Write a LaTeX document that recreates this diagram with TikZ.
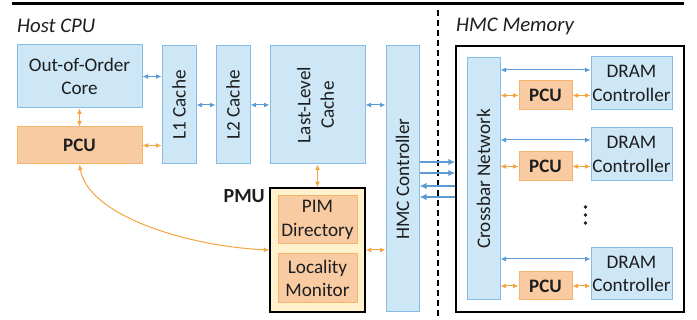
\documentclass[tikz,border=0pt]{standalone}
\usepackage{fontspec}
\setmainfont{Carlito}
\usetikzlibrary{arrows.meta}
\definecolor{bfill}{HTML}{CDE7F7}
\definecolor{bline}{HTML}{86BCE6}
\definecolor{barrow}{HTML}{5B9BD5}
\definecolor{ofill}{HTML}{F8CBA3}
\definecolor{oline}{HTML}{F5B46E}
\definecolor{oarrow}{HTML}{F4A440}
\definecolor{yfill}{HTML}{FFF2CC}
\definecolor{ink}{HTML}{1E1E1E}
\tikzset{
  txt/.style={font=\fontsize{19.2}{23.5}\selectfont, align=center, inner sep=0pt, text=ink},
  bbox/.style={txt, draw=bline, fill=bfill, line width=1pt},
  obox/.style={txt, draw=oline, fill=ofill, line width=1pt, font=\fontsize{19}{23}\selectfont\bfseries},
  otbox/.style={txt, draw=oline, fill=ofill, line width=1pt},
  barr/.style={{Latex[length=5.5pt,width=5pt]}-{Latex[length=5.5pt,width=5pt]}, draw=barrow, line width=1pt},
  oarr/.style={{Latex[length=5.5pt,width=5pt]}-{Latex[length=5.5pt,width=5pt]}, draw=oarrow, line width=1pt},
  thk/.style={-{Latex[length=7pt,width=6.5pt]}, draw=barrow, line width=2.4pt},
}
\begin{document}
\begin{tikzpicture}[x=1pt,y=-1pt]
\useasboundingbox (0,0) rectangle (697,320);
% top rule and divider
\draw[line width=3pt] (12,4) -- (684,4);
\draw[line width=1.5pt, dash pattern=on 6pt off 4pt] (438,10) -- (438,320);
% titles
\node[txt, anchor=west, font=\fontsize{20.8}{24}\selectfont\itshape] (th) at (17,26) {Host CPU};
\node[txt, anchor=west, font=\fontsize{20.8}{24}\selectfont\itshape] (tm) at (456,26) {HMC Memory};
% host side
\node[bbox, minimum width=125pt, minimum height=63pt] (core) at (79.5,76.5) {Out-of-Order\\Core};
\node[obox, minimum width=125pt, minimum height=37pt] (pcuh) at (79.5,145.5) {PCU};
\node[bbox, minimum width=34pt, minimum height=118pt] (l1) at (179,105) {\rotatebox{90}{L1 Cache}};
\node[bbox, minimum width=34pt, minimum height=118pt] (l2) at (233,105) {\rotatebox{90}{L2 Cache}};
\node[bbox, minimum width=95pt, minimum height=118pt] (llc) at (317.5,105) {\rotatebox{90}{\begin{tabular}{@{}c@{}}Last-Level\\Cache\end{tabular}}};
\node[bbox, minimum width=33pt, minimum height=266pt] (hmcc) at (402.5,179) {\rotatebox{90}{HMC Controller}};
\node[draw=black, fill=yfill, line width=1.5pt, minimum width=95pt, minimum height=124pt, inner sep=0pt] (pmu) at (317.5,250) {};
\node[txt, anchor=east, font=\fontsize{20}{23}\selectfont\bfseries] (pmul) at (265,196) {PMU};
\node[otbox, minimum width=79pt, minimum height=48pt] (pim) at (317.5,220) {PIM\\Directory};
\node[otbox, minimum width=79pt, minimum height=49pt] (loc) at (317.5,278.5) {Locality\\Monitor};
% memory side
\node[draw=black, line width=1.5pt, minimum width=228pt, minimum height=266pt, inner sep=0pt] (mem) at (570,179) {};
\node[bbox, minimum width=33pt, minimum height=242pt] (xbar) at (483.5,179) {\rotatebox{90}{Crossbar Network}};
\node[bbox, minimum width=81pt, minimum height=53pt] (d1) at (631.5,83.5) {DRAM\\Controller};
\node[obox, minimum width=53pt, minimum height=29pt] (p1) at (545.5,95.5) {PCU};
\node[bbox, minimum width=81pt, minimum height=53pt] (d2) at (631.5,154.5) {DRAM\\Controller};
\node[obox, minimum width=53pt, minimum height=29pt] (p2) at (545.5,166.5) {PCU};
\node[bbox, minimum width=81pt, minimum height=52pt] (d3) at (631.5,274) {DRAM\\Controller};
\node[obox, minimum width=53pt, minimum height=28pt] (p3) at (545.5,286) {PCU};
\foreach \yy in {207,215,223} \fill[ink] (585.5,\yy) circle (1.9pt);
% host connectors
\draw[barr] (core.east) -- (l1.west |- core.east);
\draw[oarr] (core.south) -- (pcuh.north);
\draw[oarr] (pcuh.east) -- (l1.west |- pcuh.east);
\draw[barr] (l1.east) -- (l2.west);
\draw[barr] (l2.east) -- (llc.west);
\draw[barr] (llc.east) -- (hmcc.west |- llc.east);
\draw[oarr] (llc.south) -- (pmu.north);
\draw[oarr] (pmu.east) -- (hmcc.west |- pmu.east);
\draw[oarr] (pcuh.south) .. controls (88,215) and (185,246) .. (pmu.west);
% HMC links
\draw[thk] (hmcc.east |- 0,162) -- (mem.west |- 0,162);
\draw[thk] (hmcc.east |- 0,173) -- (mem.west |- 0,173);
\draw[thk] (mem.west |- 0,186) -- (hmcc.east |- 0,186);
\draw[thk] (mem.west |- 0,197) -- (hmcc.east |- 0,197);
% memory connectors
\draw[barr] (xbar.east |- 0,70) -- (d1.west |- 0,70);
\draw[oarr] (xbar.east |- p1.west) -- (p1.west);
\draw[oarr] (p1.east) -- (d1.west |- p1.east);
\draw[barr] (xbar.east |- 0,140) -- (d2.west |- 0,140);
\draw[oarr] (xbar.east |- p2.west) -- (p2.west);
\draw[oarr] (p2.east) -- (d2.west |- p2.east);
\draw[barr] (xbar.east |- 0,259) -- (d3.west |- 0,259);
\draw[oarr] (xbar.east |- p3.west) -- (p3.west);
\draw[oarr] (p3.east) -- (d3.west |- p3.east);
\end{tikzpicture}
\end{document}
